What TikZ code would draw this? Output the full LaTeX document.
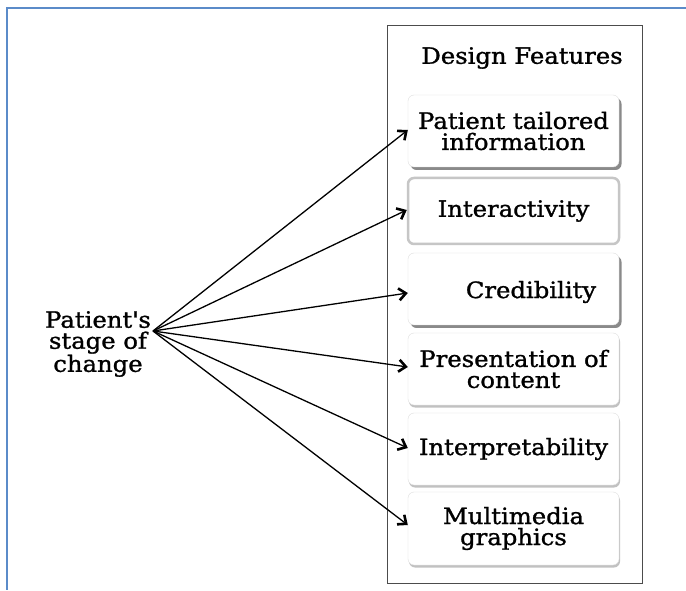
\documentclass[tikz,border=0pt]{standalone}
\usepackage{fontspec}
\setmainfont[FakeStretch=1.08,FakeBold=1.2]{DejaVu Serif}
\usetikzlibrary{arrows.meta,shadows,calc}
\definecolor{frameblue}{HTML}{5B8BC9}
\tikzset{
  every node/.style={font=\fontsize{22.5}{21}\selectfont, text=black},
  feat/.style={draw=gray!25, fill=white, rounded corners=6pt, minimum width=211pt, align=center, inner sep=0pt},
  darkshadow/.style={drop shadow={shadow xshift=2.5pt, shadow yshift=-3pt, opacity=0.65, fill=black!70}},
  lightshadow/.style={drop shadow={shadow xshift=1pt, shadow yshift=-2.5pt, opacity=0.4, fill=black!60}},
  glow/.style={draw=gray!45, line width=2.5pt},
  conn/.style={line width=1.3pt, -{Straight Barb[length=7pt,width=12pt,line width=2.6pt]}}
}
\begin{document}
\begin{tikzpicture}[x=1pt,y=1pt]
\useasboundingbox (0,0) rectangle (686,590);
\fill[white] (0,0) rectangle (686,590);
% blue frame
\coordinate (ftl) at (7,582);
\draw[frameblue, line width=2pt] (686,582) -- (ftl) -- (7,0);
% outer box
\node[draw=black!70, line width=0.8pt, minimum width=255pt, minimum height=558pt, inner sep=0pt] (outer) at (514.5,286) {};
\node (title) at (522,532) {Design Features};
% feature boxes
\node[feat, darkshadow, minimum height=72pt] (b1) at (513.5,459) {Patient tailored\\information};
\node[feat, glow, minimum height=66pt] (b2) at (513.5,379) {Interactivity};
\node[feat, darkshadow, minimum height=72pt] (b3) at (513.5,301) {};
\node (t3) at ($(b3)+(17.5,-3)$) {Credibility};
\node[feat, lightshadow, minimum height=72pt] (b4) at (513.5,221) {Presentation of\\content};
\node[feat, lightshadow, minimum height=72pt] (b5) at (513.5,141) {Interpretability};
\node[feat, lightshadow, minimum height=73pt] (b6) at (513.5,61.5) {Multimedia\\graphics};
% source
\node[align=center] (src) at (98,246) {Patient\textquotesingle s\\stage of\\change};
\coordinate (s) at (153,259);
\draw[conn] (s) -- (b1.west |- 0,460);
\draw[conn] (s) -- (b2.west |- 0,380);
\draw[conn] (s) -- (b3.west |- 0,297);
\draw[conn] (s) -- (b4.west |- 0,223);
\draw[conn] (s) -- (b5.west |- 0,142);
\draw[conn] (s) -- (b6.west |- 0,65);
\end{tikzpicture}
\end{document}
